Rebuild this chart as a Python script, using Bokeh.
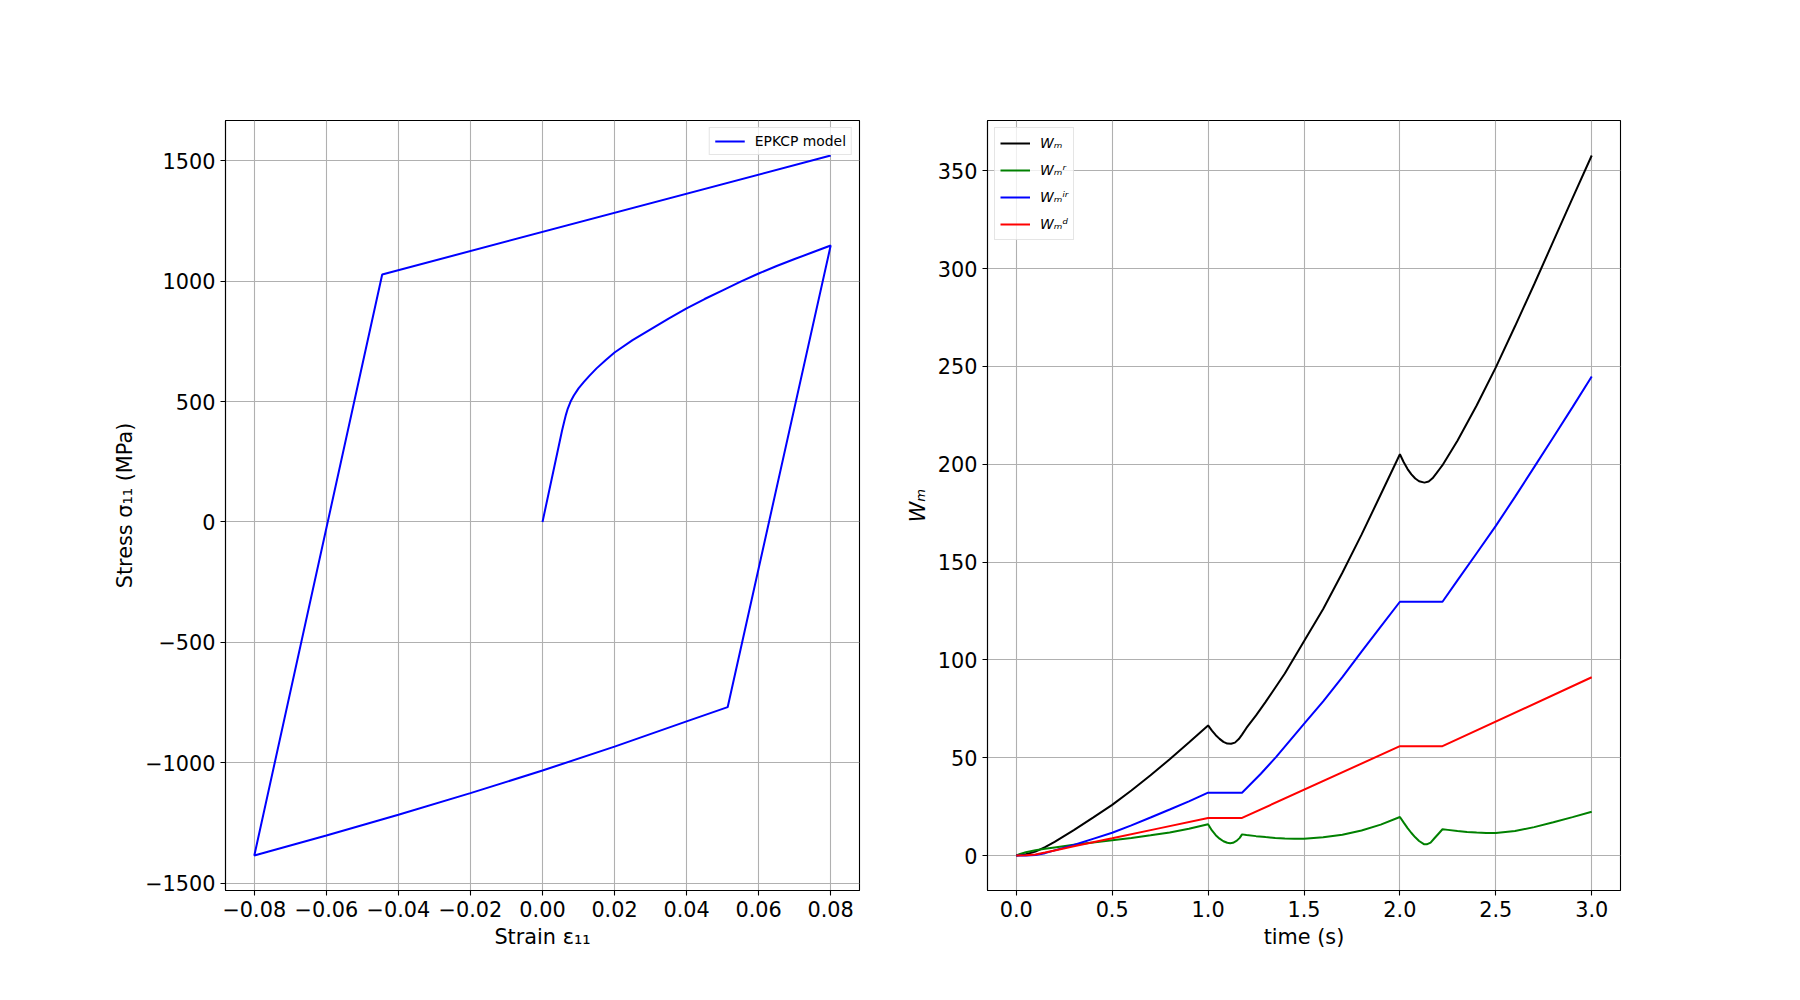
from bokeh.plotting import figure
from bokeh.layouts import row
from bokeh.models import Range1d, FixedTicker, Legend, LegendItem
from bokeh.embed import file_html
from bokeh.resources import INLINE

# ---------------- data: left panel (stress-strain loop) ----------------
strain = [0.0, 0.0054, 0.0060, 0.0065, 0.0070, 0.0078, 0.0087, 0.0100, 0.0115, 0.0130,
          0.0150, 0.0175, 0.0200, 0.0250, 0.0300, 0.0350, 0.0400, 0.0450, 0.0500,
          0.0550, 0.0600, 0.0650, 0.0700, 0.0750, 0.0800,
          0.0514, 0.0400, 0.0200, 0.0000, -0.0200, -0.0400, -0.0600, -0.0800,
          -0.0445, 0.0800]
stress = [0, 378, 415, 445, 470, 500, 525, 555, 582, 607,
          638, 672, 704, 755, 800, 845, 887, 926, 962,
          998, 1032, 1063, 1092, 1120, 1148,
          -769, -828, -933, -1032, -1126, -1216, -1302, -1385,
          1028, 1522]

strain_ticks = [-0.08, -0.06, -0.04, -0.02, 0.0, 0.02, 0.04, 0.06, 0.08]
strain_tick_labels = ["\u22120.08", "\u22120.06", "\u22120.04", "\u22120.02", "0.00",
                      "0.02", "0.04", "0.06", "0.08"]
stress_ticks = [-1500, -1000, -500, 0, 500, 1000, 1500]
stress_tick_labels = ["\u22121500", "\u22121000", "\u2212500", "0", "500", "1000", "1500"]

# ---------------- data: right panel (energies vs time) ----------------
t_wm = [0.0, 0.05, 0.1, 0.15, 0.2, 0.3, 0.4, 0.5, 0.6, 0.7, 0.8, 0.9, 1.0,
        1.02, 1.04, 1.06, 1.08, 1.1, 1.12, 1.14, 1.16, 1.177,
        1.2, 1.25, 1.3, 1.4, 1.5, 1.6, 1.7, 1.8, 1.9, 2.0,
        2.02, 2.04, 2.06, 2.08, 2.1, 2.128, 2.15, 2.17, 2.19, 2.205, 2.222,
        2.3, 2.4, 2.5, 2.6, 2.7, 2.8, 2.9, 3.0]
wm = [0.0, 0.6, 2.0, 4.3, 7.0, 13.0, 19.4, 25.9, 33.2, 41.0, 49.2, 57.7, 66.5,
      63.8, 61.5, 59.6, 58.1, 57.2, 57.1, 57.7, 59.5, 61.8,
      65.2, 71.6, 78.5, 93.0, 109.5, 126.0, 144.5, 164.0, 184.5, 205.1,
      201.0, 197.5, 194.8, 192.7, 191.3, 190.6, 191.2, 192.8, 195.3, 197.3, 199.5,
      212.0, 230.0, 249.5, 270.5, 292.0, 314.0, 336.0, 357.8]

t_wr = [0.0, 0.02, 0.05, 0.1, 0.15, 0.2, 0.3, 0.4, 0.5, 0.6, 0.7, 0.8, 0.9, 1.0,
        1.02, 1.04, 1.06, 1.08, 1.1, 1.115, 1.13, 1.15, 1.165, 1.177,
        1.2, 1.25, 1.3, 1.35, 1.4, 1.45, 1.5, 1.6, 1.7, 1.8, 1.9, 2.0,
        2.02, 2.04, 2.06, 2.08, 2.1, 2.125, 2.14, 2.16, 2.18, 2.2, 2.222,
        2.25, 2.3, 2.35, 2.4, 2.45, 2.5, 2.6, 2.7, 2.8, 2.9, 3.0]
wr = [0.0, 0.8, 1.7, 2.7, 3.4, 4.1, 5.5, 6.6, 7.8, 9.0, 10.3, 11.8, 13.7, 16.0,
      12.8, 10.4, 8.6, 7.3, 6.5, 6.3, 6.5, 7.6, 9.0, 10.8,
      10.5, 9.9, 9.4, 9.0, 8.7, 8.5, 8.6, 9.3, 10.6, 12.8, 15.8, 19.7,
      16.8, 14.0, 11.5, 9.3, 7.4, 5.8, 5.7, 6.6, 8.8, 11.0, 13.4,
      13.1, 12.5, 12.0, 11.7, 11.5, 11.5, 12.5, 14.5, 17.0, 19.6, 22.4]

t_wir = [0.0, 0.05, 0.1, 0.15, 0.2, 0.3, 0.4, 0.5, 0.6, 0.7, 0.8, 0.9, 1.0,
         1.177, 1.275, 1.354, 1.5, 1.6, 1.7, 1.8, 1.9, 2.0,
         2.222, 2.3, 2.4, 2.5, 2.6, 2.7, 2.8, 2.9, 3.0]
wir = [0.0, 0.0, 0.3, 1.2, 2.6, 5.4, 8.5, 11.6, 15.4, 19.4, 23.5, 27.7, 32.1,
       32.1, 41.8, 50.3, 67.3, 78.8, 91.2, 104.2, 117.0, 129.7,
       129.7, 140.6, 154.5, 168.5, 183.3, 198.5, 213.8, 229.2, 244.8]

t_wd = [0.0, 0.05, 0.1, 0.15, 0.2, 0.3, 0.5, 0.75, 1.0, 1.177, 2.0, 2.222, 3.0]
wd = [0.0, 0.1, 0.5, 1.5, 2.6, 4.7, 8.8, 14.0, 19.2, 19.2, 55.9, 55.9, 91.1]

time_ticks = [0.0, 0.5, 1.0, 1.5, 2.0, 2.5, 3.0]
time_tick_labels = ["0.0", "0.5", "1.0", "1.5", "2.0", "2.5", "3.0"]
w_ticks = [0, 50, 100, 150, 200, 250, 300, 350]

# ---------------- styling helpers ----------------
FONT = "DejaVu Sans"
TICK_SIZE = "20.8px"
LABEL_SIZE = "20.8px"
LEG_SIZE = "13.9px"
GRID = "#b0b0b0"


def padded(vals, frac=0.05):
    lo, hi = min(vals), max(vals)
    span = hi - lo
    return Range1d(lo - frac * span, hi + frac * span)


def style(p):
    p.background_fill_color = "white"
    p.border_fill_color = "white"
    p.outline_line_color = "black"
    p.outline_line_width = 1.1
    for ax in (p.xaxis[0], p.yaxis[0]):
        ax.axis_line_color = "black"
        ax.axis_line_width = 1.1
        ax.major_tick_line_color = "black"
        ax.major_tick_line_width = 1.1
        ax.major_tick_out = 5
        ax.major_tick_in = 0
        ax.minor_tick_out = 0
        ax.minor_tick_in = 0
        ax.minor_tick_line_color = None
        ax.major_label_text_font = FONT
        ax.major_label_text_font_size = TICK_SIZE
        ax.major_label_text_color = "black"
        ax.major_label_standoff = 5
        ax.axis_label_text_font = FONT
        ax.axis_label_text_font_size = LABEL_SIZE
        ax.axis_label_text_font_style = "normal"
        ax.axis_label_text_color = "black"
    p.xaxis[0].axis_label_standoff = 5
    p.yaxis[0].axis_label_standoff = 5
    for g in (p.xgrid[0], p.ygrid[0]):
        g.grid_line_color = GRID
        g.grid_line_width = 1.1
    p.xgrid[0].ticker = p.xaxis[0].ticker
    p.ygrid[0].ticker = p.yaxis[0].ticker


# ---------------- left figure ----------------
p1 = figure(frame_width=634, frame_height=770,
            x_range=padded(strain), y_range=padded(stress),
            output_backend="svg", toolbar_location=None,
            min_border_left=225, min_border_right=30,
            min_border_top=120, min_border_bottom=100)
p1.xaxis[0].ticker = FixedTicker(ticks=strain_ticks)
p1.xaxis[0].major_label_overrides = dict(zip(strain_ticks, strain_tick_labels))
p1.yaxis[0].ticker = FixedTicker(ticks=stress_ticks)
p1.yaxis[0].major_label_overrides = dict(zip(stress_ticks, stress_tick_labels))
p1.xaxis[0].axis_label = "Strain \u03b5\u2081\u2081"
p1.yaxis[0].axis_label = "Stress \u03c3\u2081\u2081 (MPa)"
style(p1)

r_loop = p1.line(strain, stress, line_color="blue", line_width=2)
leg1 = Legend(items=[LegendItem(label="EPKCP model", renderers=[r_loop])],
              location="top_right", margin=7, padding=5, spacing=0,
              glyph_width=30, glyph_height=16, label_height=16, label_standoff=10,
              label_text_font=FONT, label_text_font_size=LEG_SIZE,
              label_text_color="black",
              border_line_color="#cccccc", border_line_width=1,
              background_fill_color="white", background_fill_alpha=0.8)
p1.add_layout(leg1)

# ---------------- right figure ----------------
p2 = figure(frame_width=633, frame_height=770,
            x_range=padded(t_wm), y_range=padded(wm),
            output_backend="svg", toolbar_location=None,
            min_border_left=98, min_border_right=100,
            min_border_top=120, min_border_bottom=100)
p2.xaxis[0].ticker = FixedTicker(ticks=time_ticks)
p2.xaxis[0].major_label_overrides = dict(zip(time_ticks, time_tick_labels))
p2.yaxis[0].ticker = FixedTicker(ticks=w_ticks)
p2.xaxis[0].axis_label = "time (s)"
p2.yaxis[0].axis_label = "W\u2098"
style(p2)
p2.yaxis[0].axis_label_text_font_style = "italic"

r_wm = p2.line(t_wm, wm, line_color="black", line_width=2)
r_wr = p2.line(t_wr, wr, line_color="green", line_width=2)
r_wir = p2.line(t_wir, wir, line_color="blue", line_width=2)
r_wd = p2.line(t_wd, wd, line_color="red", line_width=2)
leg2 = Legend(items=[LegendItem(label="W\u2098", renderers=[r_wm]),
                     LegendItem(label="W\u2098\u02b3", renderers=[r_wr]),
                     LegendItem(label="W\u2098\u2071\u02b3", renderers=[r_wir]),
                     LegendItem(label="W\u2098\u1d48", renderers=[r_wd])],
              location="top_left", margin=7, padding=5, spacing=7,
              glyph_width=30, glyph_height=20, label_height=20, label_standoff=10,
              label_text_font=FONT, label_text_font_size=LEG_SIZE,
              label_text_font_style="italic", label_text_color="black",
              border_line_color="#cccccc", border_line_width=1,
              background_fill_color="white", background_fill_alpha=0.8)
p2.add_layout(leg2)

layout = row(p1, p2)
open("out.html", "w").write(file_html(layout, INLINE))
